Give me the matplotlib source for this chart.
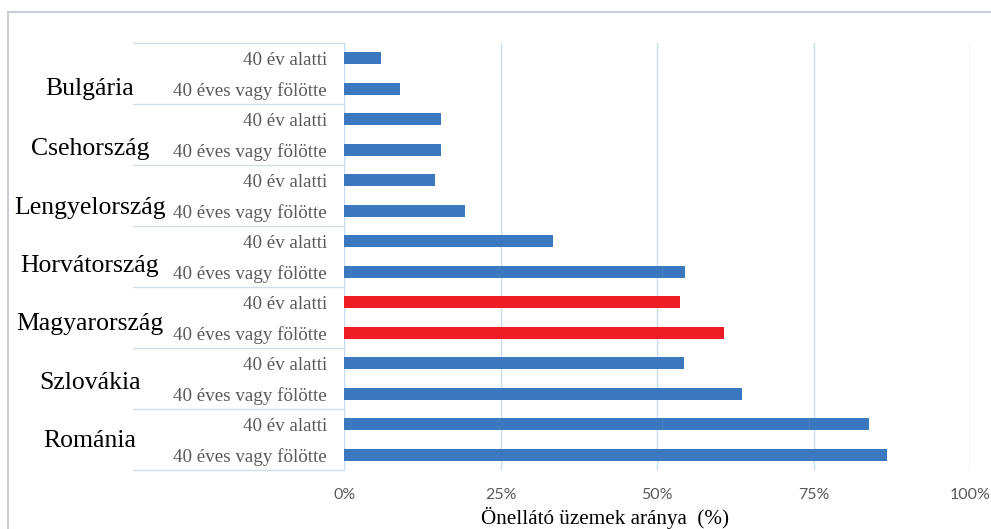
import matplotlib.pyplot as plt
from matplotlib.patches import Rectangle
from matplotlib.ticker import PercentFormatter

# adatok
countries = ['Bulgária', 'Csehország', 'Lengyelország', 'Horvátország',
             'Magyarország', 'Szlovákia', 'Románia']
age_groups = ['40 év alatti', '40 éves vagy fölötte']
under_40 = [5.9, 15.4, 14.5, 33.4, 53.6, 54.2, 83.8]
over_40 = [8.9, 15.4, 19.3, 54.4, 60.7, 63.5, 86.7]
highlight = 'Magyarország'
x_ticks = [0, 25, 50, 75, 100]

blue = '#3C78BF'
red = '#EE1C24'
grey_txt = '#595959'
sep_col = '#D5DEE8'

fig = plt.figure(figsize=(9.91, 5.29), dpi=100)
ax = fig.add_axes([0.3476, 0.1115, 0.6312, 0.8072])

values, labels, colors = [], [], []
for c, u, o in zip(countries, under_40, over_40):
    col = red if c == highlight else blue
    values += [u, o]
    labels += age_groups
    colors += [col, col]

pos = list(range(len(values)))
ax.barh(pos, values, height=0.4, color=colors, zorder=3)

ax.set_ylim(len(values) - 0.5, -0.5)
ax.set_xlim(0, 100)
ax.set_xticks(x_ticks)
ax.xaxis.set_major_formatter(PercentFormatter(decimals=0))
ax.set_yticks(pos)
ax.set_yticklabels(labels, family='Liberation Serif', fontsize=13.7, color=grey_txt)
ax.tick_params(axis='y', length=0, pad=12.6)
ax.tick_params(axis='x', length=0, pad=13, labelsize=11.5, labelcolor=grey_txt)
for lab in ax.get_xticklabels():
    lab.set_family('Lato')
ax.grid(axis='x', color='#C5DDF0', linewidth=1, zorder=0)
for s in ax.spines.values():
    s.set_visible(False)

# csoport elválasztó vonalak és országnevek
# az eredetin a nevek kézzel vannak elhelyezve, kicsit lejjebb csúszva
name_shift = [11, 10, 8, 5, 2, 0, -3]  # pixel
tr = ax.get_yaxis_transform()
for i, c in enumerate(countries):
    top = 2 * i - 0.5
    ax.plot([-0.338, 0], [top, top], transform=tr, color=sep_col, lw=1, clip_on=False)
    ax.text(-0.407, 2 * i + 0.5 + 0.15 + name_shift[i] / 30.5, c, transform=tr,
            ha='center', va='center', family='Liberation Serif', fontsize=18.5,
            color='black')
ax.plot([-0.338, 0], [len(values) - 0.5] * 2, transform=tr, color=sep_col, lw=1, clip_on=False)

ax.text(0.4165, -0.112, 'Önellátó üzemek aránya  (%)', transform=ax.transAxes,
        ha='center', va='center', family='Liberation Serif', fontsize=15.2, color='black')

# külső keret
fig.patches.append(Rectangle((8 / 991, -0.05), 1.1, 1 - 12 / 529 + 0.05,
                             transform=fig.transFigure, fill=False,
                             edgecolor='#C9CED4', lw=1.5))

fig.savefig('out.png', dpi=100)
